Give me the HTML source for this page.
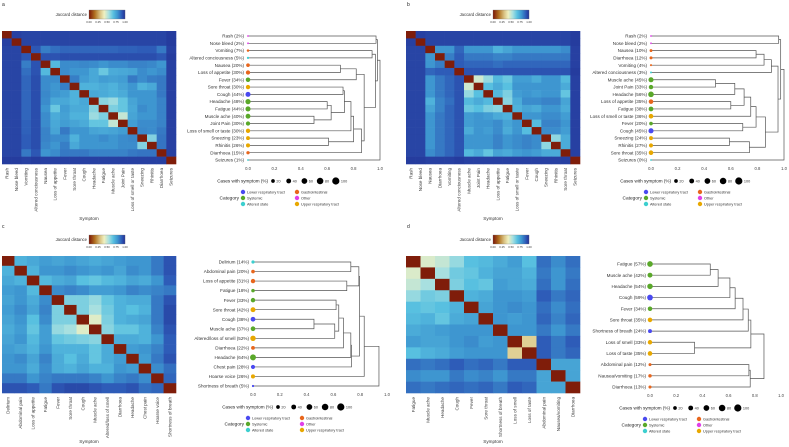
<!DOCTYPE html>
<html><head><meta charset="utf-8"><style>
html,body{margin:0;padding:0;background:#fff;}
svg{display:block;font-family:"Liberation Sans",sans-serif;}
</style></head><body>
<svg id="fig" width="789" height="447" viewBox="0 0 789 447"></svg>
<script>
// ---------- DATA ----------
const namesA=["Rash","Nose bleed","Vomiting","Altered conciousness","Nausea","Loss of appetite","Fever","Sore throat","Cough","Headache","Fatigue","Muscle ache","Joint Pain","Loss of smell or taste","Sneezing","Rhinitis","Diarrhoea","Seizures"];
const pctA=[2,2,7,5,20,30,34,30,44,48,44,40,30,30,23,26,15,1];
const catA=["O","O","G","A","G","G","S","U","L","S","S","S","S","U","U","U","G","A"];
const distA=[[],[.98],[.97,.97],[.97,.97,.93],[.97,.97,.85,.94],[.97,.97,.88,.94,.70],[.97,.97,.90,.95,.82,.82],[.97,.97,.90,.95,.82,.80,.85],[.97,.97,.90,.95,.83,.80,.78,.72],[.97,.97,.90,.95,.82,.75,.75,.72,.75],[.97,.97,.90,.95,.80,.65,.78,.74,.74,.60],[.97,.97,.90,.95,.82,.74,.77,.72,.72,.57,.62],[.97,.97,.91,.95,.82,.75,.78,.76,.74,.66,.66,.50],[.97,.97,.91,.95,.84,.76,.86,.80,.80,.76,.75,.76,.78],[.97,.97,.92,.95,.84,.82,.82,.72,.80,.80,.82,.80,.82,.83],[.97,.97,.92,.95,.83,.80,.85,.75,.80,.80,.80,.80,.82,.82,.61],[.97,.97,.86,.93,.80,.82,.86,.86,.86,.84,.84,.84,.84,.86,.87,.87],[.99,.99,.98,.99,.98,.98,.98,.98,.98,.98,.98,.98,.98,.98,.98,.98,.98]];
const mergeA=[[4,5,.70],[18,6,.82],[7,8,.72],[11,12,.50],[9,10,.60],[22,21,.63],[20,23,.73],[24,13,.78],[14,15,.61],[25,26,.80],[27,16,.86],[19,28,.88],[2,3,.94],[30,29,.965],[0,1,.97],[32,31,.98],[33,17,1.0]];

const namesB=["Rash","Nose bleed","Nausea","Diarrhoea","Vomiting","Altered conciousness","Muscle ache","Joint Pain","Headache","Loss of appetite","Fatigue","Loss of smell or taste","Fever","Cough","Sneezing","Rhinitis","Sore throat","Seizures"];
const pctB=[2,2,10,12,4,3,45,33,56,35,38,36,20,45,24,27,35,0];
const catB=["O","O","G","G","G","A","S","S","S","G","S","U","S","L","U","U","U","A"];
const distB=[[],[.98],[.97,.97],[.97,.97,.80],[.97,.97,.80,.85],[.97,.97,.90,.92,.92],[.97,.97,.80,.86,.90,.94],[.97,.97,.80,.86,.90,.94,.48],[.97,.97,.80,.86,.90,.94,.58,.68],[.97,.97,.72,.84,.88,.94,.70,.74,.70],[.97,.97,.76,.84,.90,.94,.65,.68,.62,.60],[.97,.97,.80,.86,.90,.94,.78,.80,.78,.74,.72],[.97,.97,.80,.86,.90,.94,.78,.80,.80,.82,.76,.80],[.97,.97,.80,.86,.90,.94,.74,.80,.78,.82,.74,.80,.69],[.97,.97,.80,.86,.90,.94,.80,.80,.80,.84,.80,.82,.84,.82],[.97,.97,.80,.86,.90,.94,.80,.80,.80,.84,.80,.82,.84,.82,.59],[.97,.97,.82,.86,.90,.94,.70,.74,.66,.76,.74,.78,.80,.78,.74,.74],[.99,.99,.98,.98,.98,.99,.98,.98,.98,.98,.98,.98,.98,.98,.98,.98,.98]];
const mergeB=[[6,7,.485],[18,8,.63],[9,10,.60],[19,20,.70],[21,11,.75],[12,13,.69],[22,23,.79],[14,15,.59],[25,16,.74],[24,26,.86],[2,3,.79],[28,4,.85],[29,5,.905],[30,27,.955],[0,1,.96],[32,31,.975],[33,17,1.0]];

const namesC=["Delirium","Abdominal pain","Loss of appetite","Fatigue","Fever","Sore throat","Cough","Muscle ache","Altered/loss of smell","Diarrhoea","Headache","Chest pain","Hoarse voice","Shortness of breath"];
const pctC=[14,20,31,18,33,42,38,37,52,22,64,28,26,5];
const catC=["A","G","G","S","S","U","L","S","U","G","S","L","U","L"];
const distC=[[],[.72],[.75,.72],[.78,.80,.70],[.76,.80,.74,.82],[.78,.82,.76,.84,.62],[.76,.80,.68,.82,.62,.62],[.74,.78,.66,.78,.58,.55,.45],[.76,.80,.70,.78,.66,.64,.62,.60],[.78,.76,.72,.80,.72,.72,.72,.66,.74],[.80,.82,.76,.84,.74,.68,.74,.66,.74,.78],[.80,.80,.74,.82,.74,.72,.76,.72,.72,.80,.78],[.86,.86,.80,.84,.86,.86,.86,.84,.80,.84,.86,.82],[.94,.94,.92,.86,.94,.96,.96,.94,.92,.92,.94,.88,.90]];
const mergeC=[[0,1,.73],[2,3,.70],[14,15,.79],[4,5,.62],[6,7,.455],[18,8,.61],[17,19,.64],[20,9,.675],[21,10,.73],[22,11,.735],[16,23,.795],[24,12,.83],[25,13,.94]];

const namesD=["Fatigue","Muscle ache","Headache","Cough","Fever","Sore throat","Shortness of breath","Loss of smell","Loss of taste","Abdominal pain","Nausea/vomiting","Diarrhoea"];
const pctD=[57,42,54,59,34,35,24,33,35,12,17,13];
const catD=["S","S","S","L","S","U","L","U","U","G","G","G"];
const distD=[[],[.46],[.50,.55],[.58,.64,.62],[.68,.66,.68,.72],[.70,.72,.66,.74,.76],[.74,.76,.78,.80,.80,.80],[.78,.76,.76,.80,.82,.78,.80],[.68,.72,.74,.78,.80,.80,.80,.34],[.88,.86,.88,.92,.88,.90,.86,.92,.92],[.82,.80,.80,.86,.82,.84,.80,.86,.86,.76],[.88,.86,.88,.90,.88,.90,.86,.92,.90,.76,.76]];
const mergeD=[[0,1,.46],[12,2,.52],[13,3,.61],[14,4,.65],[15,5,.71],[16,6,.75],[7,8,.34],[17,18,.77],[9,10,.755],[20,11,.765],[19,21,.87]];

const axisTicks=[0,0.2,0.4,0.6,0.8,1.0];
const sizeLegendPct=[20,40,60,80,100];
const cbTicks=["0.00","0.25","0.50","0.75","1.00"];

// ---------- RENDER ----------
const NS="http://www.w3.org/2000/svg";
const svg=document.getElementById('fig');
function mk(tag,attrs,parent,text){const e=document.createElementNS(NS,tag);for(const k in attrs)e.setAttribute(k,attrs[k]);if(text!==undefined)e.textContent=text;(parent||svg).appendChild(e);return e;}
const catColor={L:"#4a4af0",G:"#e8661c",S:"#5aa82a",O:"#e040e8",A:"#3ccfcf",U:"#e8a800"};
const stops=[[0,[127,29,10]],[0.15,[176,112,32]],[0.3,[216,192,128]],[0.42,[240,240,192]],[0.55,[168,224,224]],[0.68,[88,192,224]],[0.8,[62,150,208]],[0.92,[46,92,184]],[1,[36,55,154]]];
function cmap(v){for(let i=1;i<stops.length;i++){if(v<=stops[i][0]){const a=stops[i-1],b=stops[i];const t=(v-a[0])/(b[0]-a[0]);return "rgb("+a[1].map((c,k)=>Math.round(c+(b[1][k]-c)*t)).join(",")+")";}}return "rgb(36,55,154)";}
function rr(p){return Math.max(0.9,0.4+Math.sqrt(p)*0.32);}

function panel(cfg){
  const {letter,names,pct,cat,dist,merge,hm,cb,dd,xlab}=cfg;
  const n=names.length;
  const g=mk('g',{},svg);
  
  
  const L=mk('text',{x:cfg.lx,y:cfg.ly,'font-size':5,fill:'#222'},g,letter);
  
  
  const cbg=mk('g',{},g);
  
  
  for(let k=0;k<36;k++){mk('rect',{x:cb.x+k,y:cb.y,width:1.1,height:9,fill:cmap(k/35)},cbg);}
  mk('rect',{x:cb.x,y:cb.y,width:36,height:9,fill:'none',stroke:'#777','stroke-width':0.3},cbg);
  const ct=mk('text',{x:cb.x-2,y:cb.y+6,'font-size':4.2,'text-anchor':'end',fill:'#333'},cbg,"Jaccard distance");
  
  
  cbTicks.forEach((t,k)=>{mk('text',{x:cb.x+k*9,y:cb.y+13,'font-size':2.8,'text-anchor':'middle',fill:'#333'},cbg,t);});
  const M=[];for(let i=0;i<n;i++){M.push([]);for(let j=0;j<n;j++){M[i].push(i===j?0:(j<i?dist[i][j]:dist[j][i]));}}
  const cw=hm.w/n,ch=hm.h/n;
  const hg=mk('g',{},g);
  
  
  for(let i=0;i<n;i++)for(let j=0;j<n;j++){
    const c=mk('rect',{x:hm.x+j*cw,y:hm.y+i*ch,width:cw+0.3,height:ch+0.3,fill:cmap(M[i][j])},hg);
    
    
  }
  names.forEach((nm,j)=>{
    const cx=hm.x+(j+0.5)*cw+1.5, ty=hm.y+hm.h+4;
    const t=mk('text',{x:cx,y:ty,'font-size':4.6,'text-anchor':'end',fill:'#444',transform:`rotate(-90 ${cx} ${ty})`},hg,nm);
    
    
  });
  const xt=mk('text',{x:hm.x+hm.w/2,y:xlab,'font-size':4.6,'text-anchor':'middle',fill:'#333'},hg,cfg.xtitle);
  
  
  const dg=mk('g',{},g);
  
  
  const sx=v=>dd.x0+v*(dd.x1-dd.x0);
  const rowH=(dd.y1-dd.y0)/(n-1);
  const sy=i=>dd.y0+i*rowH;
  const nx=[],ny=[];
  for(let i=0;i<n;i++){nx.push(sx(0));ny.push(sy(i));}
  merge.forEach(m=>{
    const [a,b,h]=m;const X=sx(h);
    const p=`M${nx[a]},${ny[a]}H${X}V${ny[b]}H${nx[b]}`;
    const pe=mk('path',{d:p,fill:'none',stroke:'#555','stroke-width':0.7},dg);
    
    
    nx.push(X);ny.push((ny[a]+ny[b])/2);
  });
  names.forEach((nm,i)=>{
    const t=mk('text',{x:dd.x0-4,y:sy(i)+1.6,'font-size':4.6,'text-anchor':'end',fill:'#333'},dg,nm+" ("+pct[i]+"%)");
    
    
    const c=mk('circle',{cx:dd.x0,cy:sy(i),r:rr(pct[i]),fill:catColor[cat[i]]},dg);
    
    
  });
  const ay=dd.y1+10;
  axisTicks.forEach(v=>{
    const t=mk('text',{x:sx(v),y:ay,'font-size':4.2,'text-anchor':'middle',fill:'#444'},dg,v.toFixed(1));
    
    
  });
  const sl=mk('g',{},g);
  
  
  const sly=ay+11;
  mk('text',{x:dd.x0+20,y:sly+1.6,'font-size':4.6,'text-anchor':'end',fill:'#222'},sl,"Cases with symptom (%)");
  sizeLegendPct.forEach((p,k)=>{
    const x=dd.x0+25+k*15.7;
    mk('circle',{cx:x,cy:sly,r:rr(p),fill:'#000'},sl);
    mk('text',{x:x+rr(p)+1.5,y:sly+1.5,'font-size':3.8,fill:'#333'},sl,String(p));
  });
  const cl=mk('g',{},g);
  
  
  const cy0=ay+22;
  mk('text',{x:dd.x0-9,y:cy0+7.5,'font-size':4.8,'text-anchor':'end',fill:'#222'},cl,"Category");
  const items=[["L","Lower respiratory tract",0,0],["S","Systemic",0,1],["A","Altered state",0,2],["G","Gastrointestinal",1,0],["O","Other",1,1],["U","Upper respiratory tract",1,2]];
  items.forEach(it=>{
    const x=dd.x0-5+it[2]*54,y=cy0+it[3]*6;
    mk('circle',{cx:x,cy:y,r:2.2,fill:catColor[it[0]]},cl);
    mk('text',{x:x+4,y:y+1.4,'font-size':3.8,fill:'#333'},cl,it[1]);
  });
}

panel({letter:'a',lx:2,ly:6,names:namesA,pct:pctA,cat:catA,dist:distA,merge:mergeA,hm:{x:2,y:31,w:174,h:133},cb:{x:89,y:10},dd:{x0:248,x1:380,y0:36,y1:160},xlab:220,xtitle:"Symptom"});
panel({letter:'b',lx:407,ly:6,names:namesB,pct:pctB,cat:catB,dist:distB,merge:mergeB,hm:{x:406,y:31,w:174,h:133},cb:{x:493,y:10},dd:{x0:651,x1:784,y0:36,y1:160},xlab:220,xtitle:"Symptom"});
panel({letter:'c',lx:2,ly:228,names:namesC,pct:pctC,cat:catC,dist:distC,merge:mergeC,hm:{x:2,y:256,w:174,h:137},cb:{x:89,y:235},dd:{x0:253,x1:387,y0:262,y1:386},xlab:443,xtitle:"Symptom"});
panel({letter:'d',lx:407,ly:228,names:namesD,pct:pctD,cat:catD,dist:distD,merge:mergeD,hm:{x:406,y:256,w:174,h:137},cb:{x:493,y:235},dd:{x0:650,x1:781,y0:264,y1:387},xlab:443,xtitle:"Symptom"});
</script>
</body></html>
